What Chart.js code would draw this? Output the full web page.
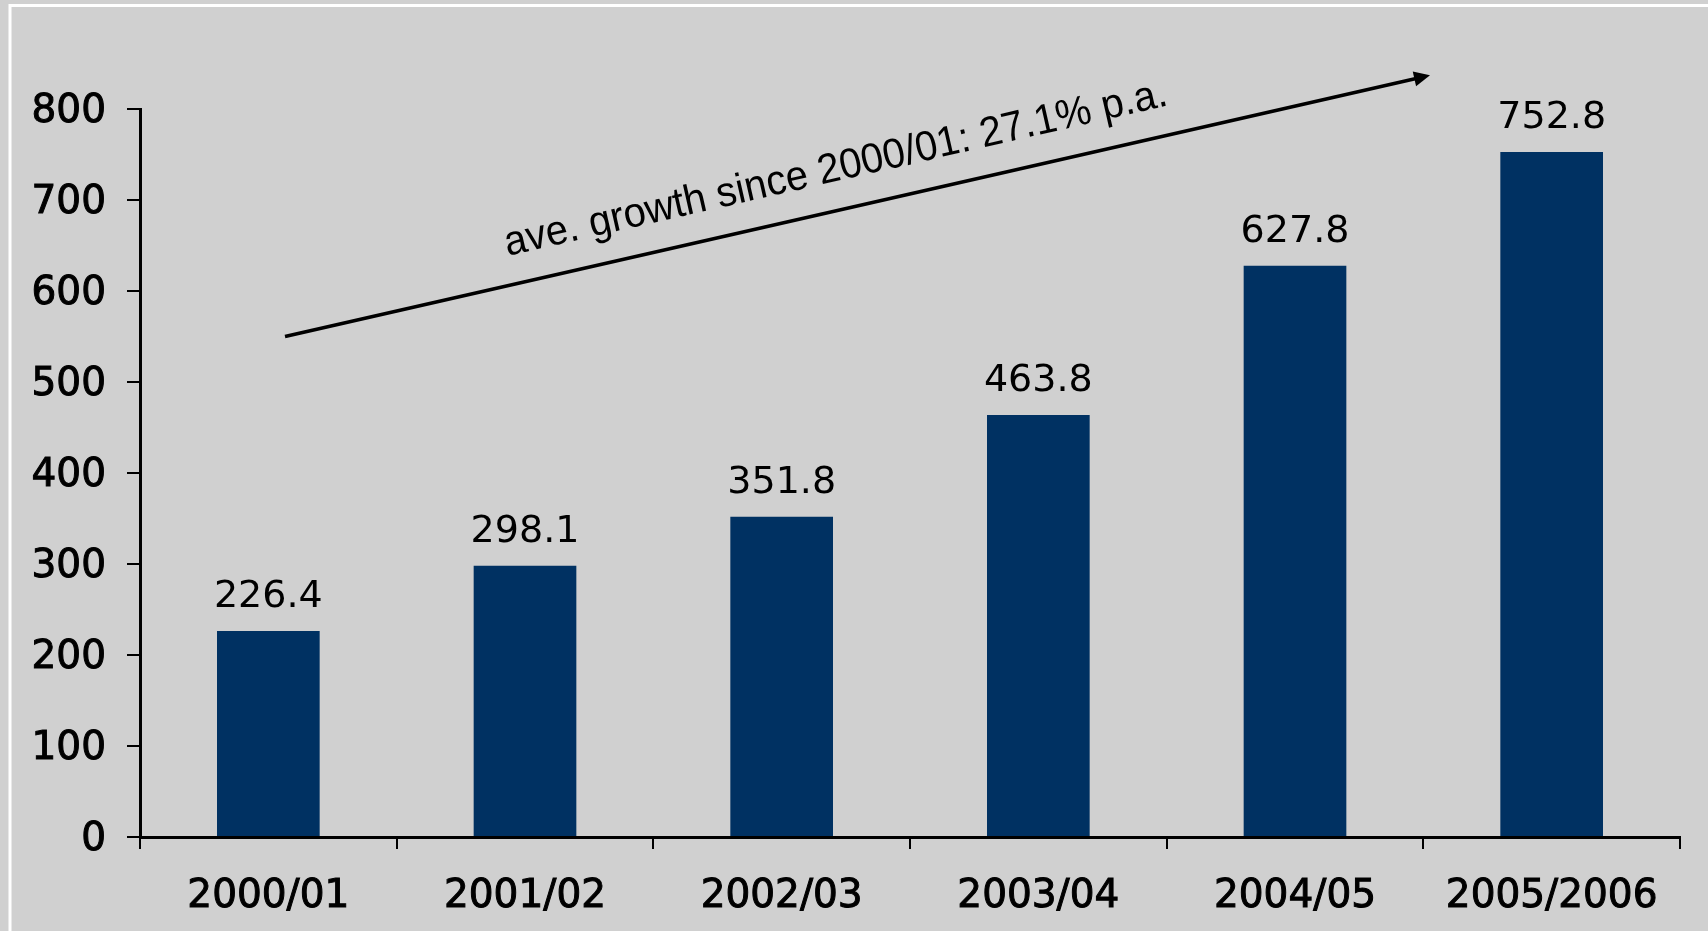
<!DOCTYPE html>
<html>
<head>
<meta charset="utf-8">
<script src="https://cdn.jsdelivr.net/npm/chart.js@4.4.0/dist/chart.umd.min.js"></script>
<style>
  html, body { margin: 0; padding: 0; background: #d0d0d0; }
  #chart { display: block; }
</style>
</head>
<body>
<canvas id="chart" width="1708" height="931"></canvas>
<script>
const years = ["2000/01", "2001/02", "2002/03", "2003/04", "2004/05", "2005/2006"];
const revenue = [226.4, 298.1, 351.8, 463.8, 627.8, 752.8];
const yMax = 800;
const yStep = 100;
const growthNote = "ave. growth since 2000/01: 27.1% p.a.";

const labelFont = "'DejaVu Sans', Verdana, sans-serif";

// gray panel with the white frame on the left and top
const panel = {
  id: "panel",
  beforeDraw(chart) {
    const ctx = chart.ctx;
    ctx.save();
    ctx.fillStyle = "#d0d0d0";
    ctx.fillRect(0, 0, chart.width, chart.height);
    ctx.strokeStyle = "#ffffff";
    ctx.lineWidth = 3;
    ctx.strokeRect(10, 5.5, chart.width + 20, chart.height + 20);
    ctx.restore();
  }
};

// numbers above each bar
const barValues = {
  id: "barValues",
  afterDatasetsDraw(chart) {
    const ctx = chart.ctx;
    const meta = chart.getDatasetMeta(0);
    ctx.save();
    ctx.font = "38px " + labelFont;
    ctx.fillStyle = "#000";
    ctx.textAlign = "center";
    ctx.textBaseline = "alphabetic";
    meta.data.forEach((bar, i) => {
      ctx.fillText(revenue[i].toFixed(1), bar.x, bar.y - 24);
    });
    ctx.restore();
  }
};

// trend arrow with the growth note, anchored in data space (category index, value)
const growthArrow = {
  id: "growthArrow",
  afterDraw(chart) {
    const x = chart.scales.x, y = chart.scales.y;
    const x0 = x.getPixelForValue(0.065), y0 = y.getPixelForValue(550);
    const x1 = x.getPixelForValue(4.526), y1 = y.getPixelForValue(837);
    const ang = Math.atan2(y1 - y0, x1 - x0);
    const len = Math.hypot(x1 - x0, y1 - y0);
    const ctx = chart.ctx;
    ctx.save();
    ctx.translate(x0, y0);
    ctx.rotate(ang);
    ctx.strokeStyle = "#000";
    ctx.fillStyle = "#000";
    ctx.lineWidth = 3.5;
    ctx.beginPath();
    ctx.moveTo(0, 0);
    ctx.lineTo(len - 12, 0);
    ctx.stroke();
    ctx.beginPath();
    ctx.moveTo(len, 0);
    ctx.lineTo(len - 16, -7.5);
    ctx.lineTo(len - 16, 7.5);
    ctx.closePath();
    ctx.fill();
    // slightly narrowed lettering
    ctx.translate(len * 0.2, -29);
    ctx.scale(0.95, 1);
    ctx.font = "42px 'Liberation Sans', Arial, sans-serif";
    ctx.textAlign = "left";
    ctx.textBaseline = "alphabetic";
    ctx.fillText(growthNote, 0, 0);
    ctx.restore();
  }
};

// axis labels: regular face with a thin outline for a semi-bold look
const axisTicks = (size, pad) => ({
  color: "#000",
  font: { family: labelFont, size: size },
  textStrokeColor: "#000",
  textStrokeWidth: 1,
  padding: pad
});

new Chart(document.getElementById("chart"), {
  type: "bar",
  data: {
    labels: years,
    datasets: [{
      data: revenue,
      backgroundColor: "#003162",
      borderWidth: 0,
      barPercentage: 0.4,
      categoryPercentage: 1
    }]
  },
  options: {
    responsive: false,
    animation: false,
    devicePixelRatio: 1,
    layout: { padding: { top: 109, right: 28, left: 0, bottom: 0 } },
    plugins: { legend: { display: false }, tooltip: { enabled: false } },
    scales: {
      x: {
        afterFit(s) { s.height = 94; },
        border: { display: true, color: "#000", width: 3 },
        grid: { offset: true, drawOnChartArea: false, drawTicks: true, tickLength: 12, color: "#000", lineWidth: 2 },
        ticks: axisTicks(39, 24)
      },
      y: {
        min: 0,
        max: yMax,
        afterFit(s) { s.width = 140; },
        border: { display: true, color: "#000", width: 3 },
        grid: { drawOnChartArea: false, drawTicks: true, tickLength: 13, color: "#000", lineWidth: 2 },
        ticks: { ...axisTicks(39, 21), stepSize: yStep, labelOffset: 3 }
      }
    }
  },
  plugins: [panel, barValues, growthArrow]
});
</script>
</body>
</html>
